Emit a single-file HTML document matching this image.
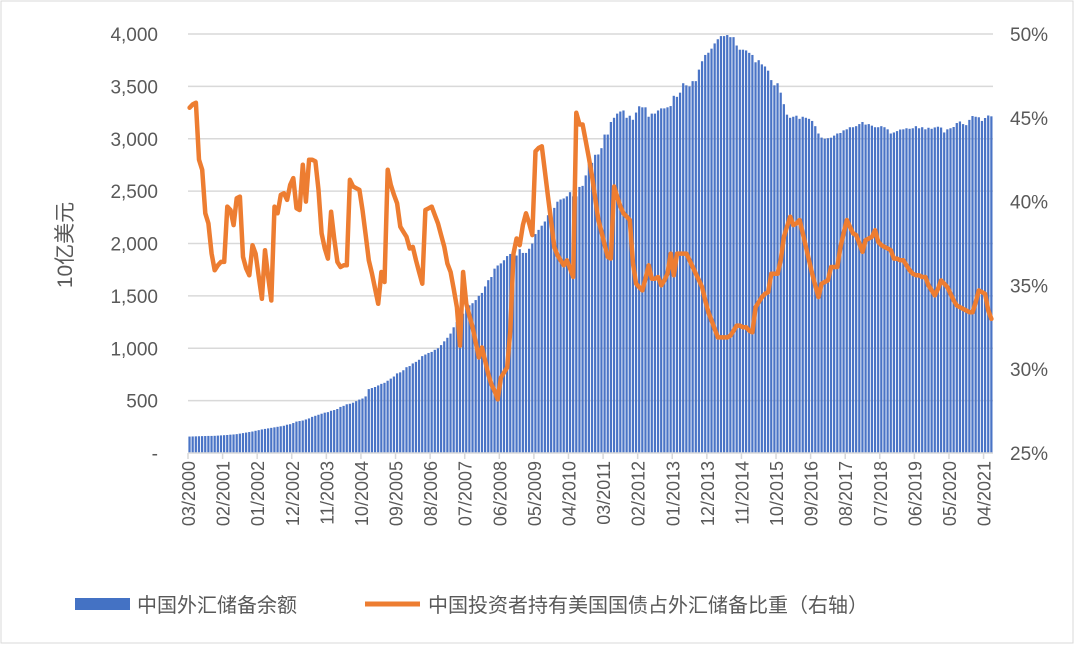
<!DOCTYPE html>
<html><head><meta charset="utf-8"><style>
body{margin:0;background:#fff;width:1080px;height:650px;overflow:hidden;font-family:"Liberation Sans","Noto Sans CJK SC",sans-serif}
</style></head><body>
<svg id="chart" width="1080" height="650" xmlns="http://www.w3.org/2000/svg" style="font-family:'Liberation Sans','Noto Sans CJK SC',sans-serif">
<rect x="1" y="1" width="1072" height="642" fill="none" stroke="#d9d9d9"/>
<g id="grid"></g><g id="bars"></g><g id="line"></g><g id="axes"></g>
<text transform="translate(72,245) rotate(-90)" text-anchor="middle" font-size="21" fill="#595959">10亿美元</text>
<g>
<rect x="75" y="598" width="55" height="12" fill="#4472c4"/>
<text x="137" y="612" font-size="20" fill="#595959">中国外汇储备余额</text>
<line x1="365" y1="604" x2="420" y2="604" stroke="#ed7d31" stroke-width="5"/>
<text x="428" y="612" font-size="20" fill="#595959">中国投资者持有美国国债占外汇储备比重（右轴）</text>
</g>
</svg>
<script>
const reserves=[157,158,159,160,161,162,163,163,164,166,
168,170,172,175,177,180,185,190,195,200,205,212,
218,225,230,235,240,245,250,255,260,270,275,286,
300,305,310,320,330,345,355,365,375,385,390,403,
410,420,440,450,465,470,480,495,510,520,540,610,
620,630,645,660,670,690,710,730,760,770,790,819,
830,855,870,890,925,940,955,965,985,1000,1030,1066,
1100,1140,1200,1250,1290,1330,1380,1410,1430,1460,1500,1528,
1590,1650,1680,1760,1790,1810,1840,1880,1900,1880,1885,1946,
1910,1910,1950,2000,2090,2130,2170,2210,2270,2280,2340,2399,
2420,2430,2450,2490,2450,2450,2540,2550,2650,2760,2770,2847,
2850,2910,3040,3040,3160,3200,3240,3260,3270,3200,3220,3181,
3250,3310,3300,3300,3210,3240,3240,3270,3290,3290,3300,3312,
3410,3400,3440,3530,3510,3500,3550,3550,3660,3740,3800,3821,
3860,3910,3950,3980,3980,3990,3970,3970,3890,3850,3850,3843,
3820,3800,3730,3750,3710,3690,3650,3560,3510,3530,3440,3330,
3230,3200,3210,3220,3190,3210,3200,3190,3170,3120,3050,3011,
3000,3005,3010,3030,3050,3055,3080,3090,3110,3110,3120,3140,
3160,3135,3140,3125,3110,3110,3120,3110,3090,3050,3060,3073,
3088,3090,3100,3095,3100,3120,3100,3110,3090,3105,3095,3108,
3115,3107,3060,3090,3100,3112,3150,3165,3140,3130,3180,3217,
3210,3205,3170,3198,3222,3214];
const share=[45.6,45.8,45.9,42.5,41.9,39.3,38.7,36.9,35.9,36.2,36.4,36.4,
39.7,39.5,38.6,40.2,40.3,36.7,36.0,35.6,37.4,36.9,35.5,34.2,
37.1,35.5,34.1,39.7,39.3,40.4,40.5,40.1,41.0,41.4,39.6,39.5,
42.2,40.0,42.5,42.5,42.4,40.7,38.1,37.2,36.6,39.4,37.8,36.4,
36.1,36.2,36.2,41.3,40.9,40.8,40.7,39.5,38.0,36.5,35.7,34.8,
33.9,35.8,35.2,41.9,41.0,40.4,39.9,38.5,38.2,37.9,37.2,37.3,
36.5,35.8,35.1,39.5,39.6,39.7,39.2,38.7,38.0,37.3,36.3,35.8,
34.8,33.7,31.4,35.8,33.9,33.2,32.5,31.6,30.7,31.3,30.5,29.7,
29.1,28.7,28.2,29.5,29.8,30.1,32.3,36.9,37.8,37.4,38.6,39.3,
38.7,38.0,43.0,43.2,43.3,41.8,40.3,38.8,37.3,36.8,36.5,36.2,
36.5,36.0,35.5,45.3,44.6,44.6,43.6,42.6,41.5,40.2,38.9,38.2,
37.4,36.7,36.6,40.9,40.3,39.7,39.3,39.1,38.9,36.3,35.1,34.9,
34.7,35.4,36.2,35.4,35.4,35.5,35.0,35.3,35.7,36.9,35.6,36.9,
36.9,36.9,36.9,36.5,36.1,35.7,35.3,34.9,34.1,33.4,32.9,32.4,
31.9,31.9,31.9,31.9,32.0,32.3,32.6,32.6,32.5,32.5,32.3,32.2,
33.7,34.0,34.3,34.5,34.6,35.7,35.7,35.7,36.5,37.9,38.5,39.1,
38.6,38.7,38.9,38.1,37.3,36.5,35.7,35.0,34.3,35.1,35.2,35.3,
36.1,36.1,36.1,37.3,38.1,38.9,38.5,38.1,38.0,37.5,37.0,37.7,
37.8,37.9,38.3,37.6,37.4,37.3,37.2,37.1,36.6,36.6,36.5,36.5,
36.2,35.9,35.7,35.6,35.6,35.5,35.5,35.0,34.7,34.4,34.8,35.3,
35.1,34.9,34.5,34.1,33.8,33.7,33.6,33.5,33.4,33.4,34.0,34.7,
34.6,34.5,33.5,33.0];
const leftTicks=["-","500","1,000","1,500","2,000","2,500","3,000","3,500","4,000"];
const leftTickValues=[0,500,1000,1500,2000,2500,3000,3500,4000];
const rightTicks=["25%","30%","35%","40%","45%","50%"];
const rightTickValues=[25,30,35,40,45,50];
const startYear=2000,startMonth=3,labelStep=11;

const NS="http://www.w3.org/2000/svg";
const X0=188,X1=993,YT=34,YB=453;
const N=reserves.length, band=(X1-X0)/N;
const yL=v=>YB-(v/4000)*(YB-YT);
const yR=v=>YB-((v-25)/25)*(YB-YT);
const xC=i=>X0+band*(i+0.5);
function mk(tag,attrs,parent,txt){const e=document.createElementNS(NS,tag);for(const k in attrs)e.setAttribute(k,attrs[k]);if(txt!==undefined)e.textContent=txt;parent.appendChild(e);return e;}
const grid=document.getElementById('grid'),bars=document.getElementById('bars'),line=document.getElementById('line'),axes=document.getElementById('axes');
leftTickValues.forEach((v,k)=>{
  if(v>0){const g=mk('line',{x1:X0,x2:X1,y1:yL(v),y2:yL(v),stroke:'#d9d9d9','stroke-width':1.5},grid);
  
  }
  const t=mk('text',{x:158,y:yL(v)+7,'text-anchor':'end','font-size':19,fill:'#595959'},axes,leftTicks[k]);
  
  
});
rightTickValues.forEach((v,k)=>{
  const t=mk('text',{x:1010,y:yR(v)+7,'font-size':19,fill:'#595959'},axes,rightTicks[k]);
  
  
});
reserves.forEach((v,i)=>{
  const r=mk('rect',{x:X0+band*i+0.4,y:yL(v),width:band-0.9,height:YB-yL(v),fill:'#4a74c6'},bars);
  
  
});
const pts=share.map((v,i)=>xC(i).toFixed(1)+','+yR(v).toFixed(1)).join(' ');
const pl=mk('polyline',{points:pts,fill:'none',stroke:'#ed7d31','stroke-width':4.5,'stroke-linejoin':'round','stroke-linecap':'round'},line);


const ax=mk('line',{x1:X0,x2:X1,y1:YB,y2:YB,stroke:'#d9d9d9','stroke-width':1.5},axes);


for(let i=0;i<N;i+=labelStep){
  const x=X0+band*i;
  const tk=mk('line',{x1:x,x2:x,y1:YB,y2:YB+6,stroke:'#d9d9d9','stroke-width':1.5},axes);
  
  
  const m0=startMonth-1+i, mo=(m0%12)+1, yr=startYear+Math.floor(m0/12);
  const lbl=(mo<10?'0':'')+mo+'/'+yr;
  const t=mk('text',{transform:`translate(${x+7},${YB+8}) rotate(-90)`,'text-anchor':'end','font-size':18,fill:'#595959'},axes,lbl);
  
  
}
</script>
</body></html>
